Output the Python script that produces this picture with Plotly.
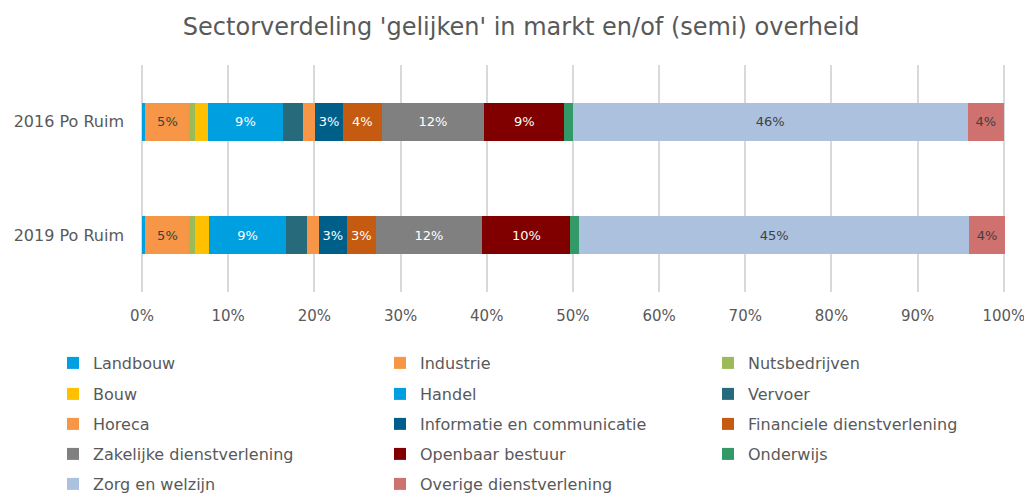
import plotly.graph_objects as go

categories = ["2016 Po Ruim", "2019 Po Ruim"]

sectors = [
    "Landbouw", "Industrie", "Nutsbedrijven",
    "Bouw", "Handel", "Vervoer",
    "Horeca", "Informatie en communicatie", "Financiele dienstverlening",
    "Zakelijke dienstverlening", "Openbaar bestuur", "Onderwijs",
    "Zorg en welzijn", "Overige dienstverlening",
]

# share (%) per sector: [2016, 2019]
landbouw = [0.4, 0.4]
industrie = [5.1, 5.1]
nutsbedrijven = [0.6, 0.6]
bouw = [1.5, 1.7]
handel = [8.8, 8.9]
vervoer = [2.3, 2.5]
horeca = [1.4, 1.3]
informatie = [3.2, 3.3]
financieel = [4.5, 3.3]
zakelijk = [11.9, 12.4]
openbaar = [9.3, 10.2]
onderwijs = [1.0, 1.0]
zorg = [45.8, 45.3]
overige = [4.2, 4.1]

values = [landbouw, industrie, nutsbedrijven, bouw, handel, vervoer, horeca,
          informatie, financieel, zakelijk, openbaar, onderwijs, zorg, overige]

x_ticks = [0, 10, 20, 30, 40, 50, 60, 70, 80, 90, 100]
x_tick_labels = [f"{t}%" for t in x_ticks]

colors = ["#009FE3", "#F79646", "#9BBB59", "#FFC000", "#00A0E0", "#276A7C",
          "#F79646", "#005F88", "#C55A11", "#808080", "#800000", "#339966",
          "#ACC1DE", "#CF716F"]

label_colors = ["#404040", "#404040", "#404040", "#404040", "#FFFFFF", "#FFFFFF",
                "#404040", "#FFFFFF", "#FFFFFF", "#FFFFFF", "#FFFFFF", "#FFFFFF",
                "#404040", "#404040"]

FONT = "DejaVu Sans"
GREY = "#595959"
W, H = 1024, 493
# legend grid (3 columns, filled row by row)
col_left = [53, 380, 708]
row_centers = [363, 394, 424, 454, 484]

fig = go.Figure()
layout_legends = {}
for i, (name, vals, col, lcol) in enumerate(zip(sectors, values, colors, label_colors)):
    labels = [f"{round(v)}%" if v >= 3 else "" for v in vals]
    lname = "legend" if i == 0 else f"legend{i + 1}"
    fig.add_trace(go.Bar(
        name=name, y=categories, x=vals, orientation="h",
        marker=dict(color=col, line=dict(width=0)),
        text=labels, textposition="inside", insidetextanchor="middle",
        textangle=0, constraintext="none",
        insidetextfont=dict(family=FONT, size=13, color=lcol),
        hoverinfo="name+x",
        legend=lname,
    ))
    r, c = divmod(i, 3)
    layout_legends[lname] = dict(
        orientation="h", xref="container", yref="container",
        x=col_left[c] / W, xanchor="left",
        y=1 - row_centers[r] / H, yanchor="middle",
        itemwidth=30, bgcolor="rgba(0,0,0,0)",
        font=dict(family=FONT, size=16, color=GREY))

fig.update_layout(
    barmode="stack",
    bargap=0.665,
    width=W, height=H,
    paper_bgcolor="white", plot_bgcolor="white",
    margin=dict(l=142, r=18, t=65, b=201),
    font=dict(family=FONT, color=GREY),
    title=dict(text="Sectorverdeling 'gelijken' in markt en/of (semi) overheid",
               x=0.509, xanchor="center", y=1 - 27 / H, yanchor="middle",
               font=dict(family=FONT, size=24, color=GREY)),
    xaxis=dict(range=[0, 100.25], tickmode="array", tickvals=x_ticks,
               ticktext=x_tick_labels, ticklabeloverflow="allow",
               showgrid=True, gridcolor="#D9D9D9", gridwidth=2,
               zeroline=True, zerolinecolor="#D9D9D9", zerolinewidth=2,
               showline=False, ticks="", ticklabelstandoff=13,
               automargin=False,
               tickfont=dict(family=FONT, size=15, color=GREY)),
    yaxis=dict(categoryorder="array", categoryarray=categories,
               autorange="reversed", showgrid=False, zeroline=False,
               ticks="", ticklabelstandoff=17, automargin=False,
               tickfont=dict(family=FONT, size=16, color=GREY)),
    showlegend=True,
    **layout_legends,
)

fig.write_html("out.html", config={"displayModeBar": False},
               post_script="document.body.style.margin='0';")
